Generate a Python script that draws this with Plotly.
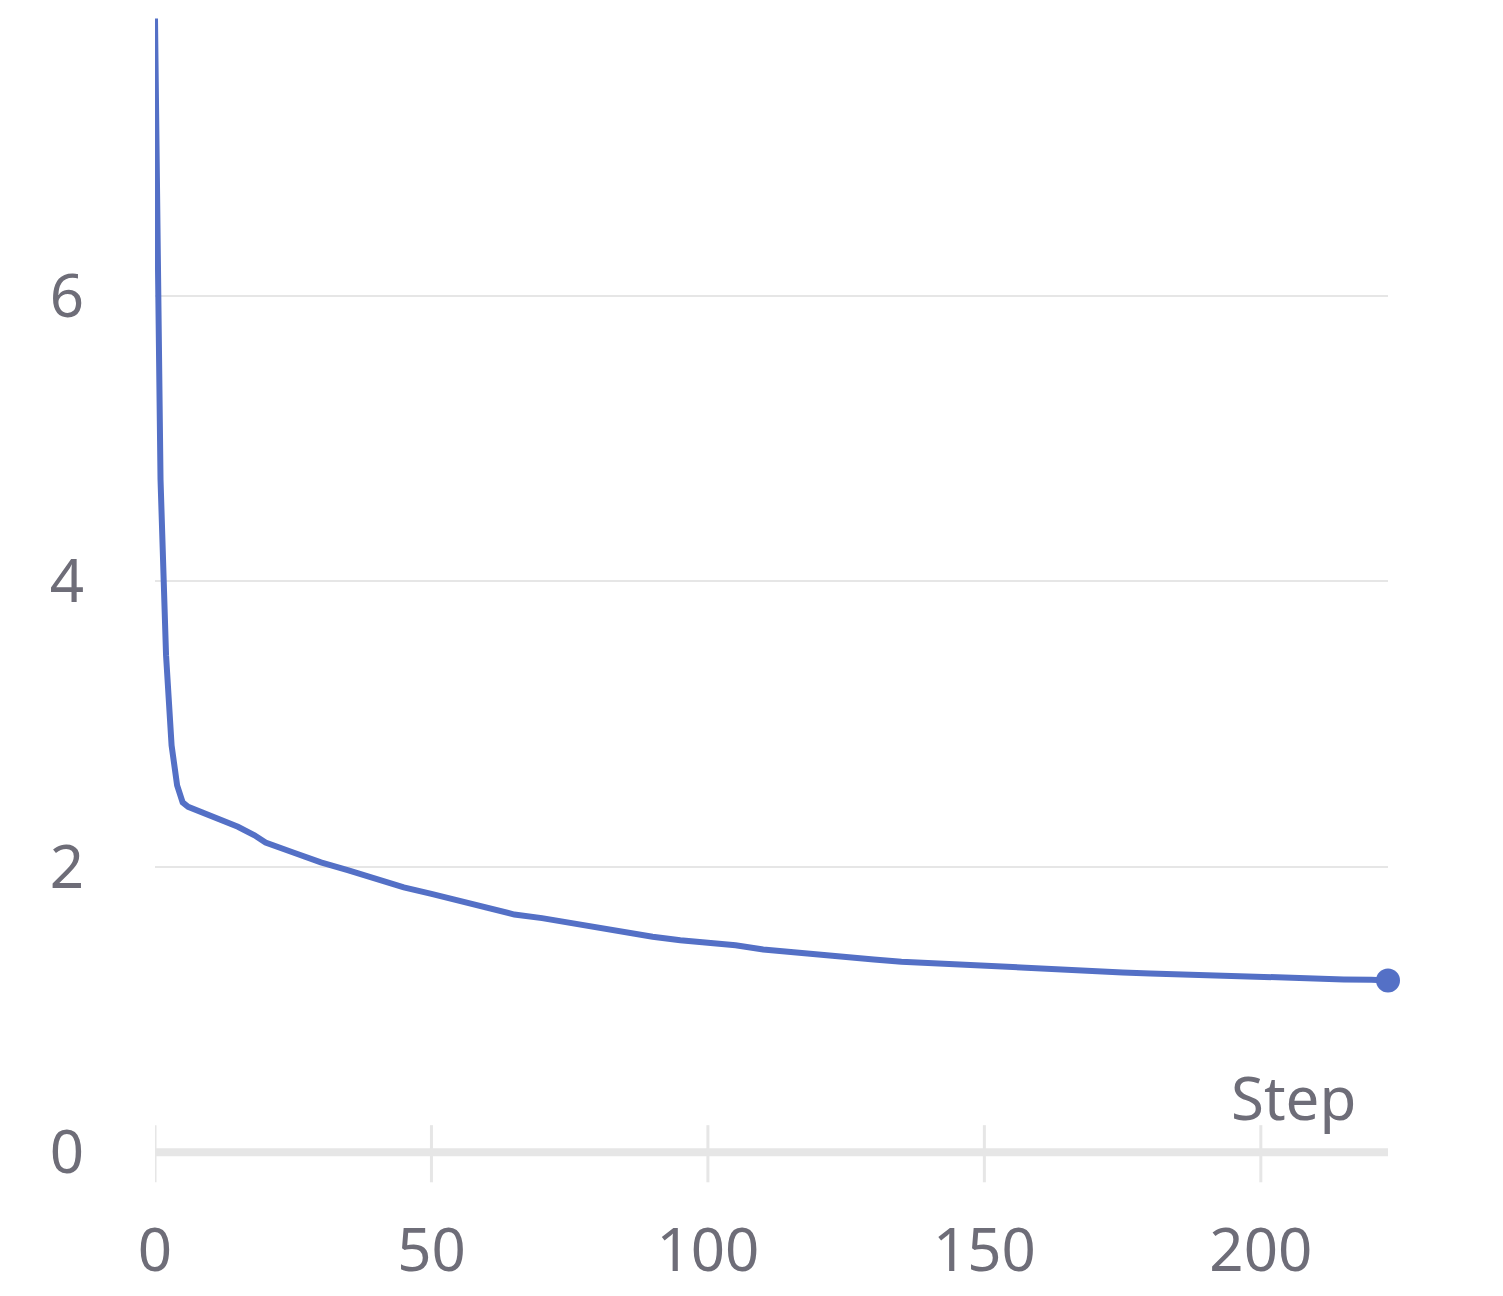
import plotly.graph_objects as go

# loss per training step
steps = [0, 1, 2, 3, 4, 5, 6, 8, 10, 12, 15, 18, 20, 25, 30, 35, 40, 45, 50,
         55, 60, 65, 70, 75, 80, 85, 90, 95, 100, 105, 110, 115, 120, 125, 130,
         135, 140, 145, 150, 155, 160, 165, 170, 175, 180, 185, 190, 195, 200,
         205, 210, 215, 220, 223]
loss = [7.94, 4.71, 3.48, 2.85, 2.57, 2.45, 2.42, 2.39, 2.36, 2.33, 2.28, 2.22,
        2.17, 2.10, 2.03, 1.975, 1.91, 1.855, 1.81, 1.76, 1.71, 1.665, 1.64,
        1.605, 1.57, 1.54, 1.51, 1.485, 1.47, 1.45, 1.42, 1.40, 1.38, 1.36,
        1.35, 1.335, 1.325, 1.313, 1.30, 1.295, 1.29, 1.278, 1.268, 1.26,
        1.253, 1.246, 1.24, 1.236, 1.229, 1.222, 1.215, 1.211, 1.208, 1.204]

x_ticks = [0, 50, 100, 150, 200]
y_ticks = [0, 2, 4, 6]
x_title = "Step"

BLUE = "#5470c6"
TEXT = "#6e6d78"
GRID = "#e6e6e6"
FONT = "Noto Sans"

fig = go.Figure()
fig.add_trace(go.Scatter(x=steps, y=loss, mode="lines",
                         line=dict(color=BLUE, width=6), hoverinfo="skip"))
# marker on the last point only
fig.add_trace(go.Scatter(x=steps[-1:], y=loss[-1:], mode="markers", cliponaxis=False,
                         marker=dict(color=BLUE, size=24), hoverinfo="skip"))

# thick baseline with ticks crossing it
fig.add_shape(type="line", xref="x", yref="y", x0=steps[0], x1=steps[-1],
              y0=0, y1=0, line=dict(color=GRID, width=8), layer="below")
for t in x_ticks:
    fig.add_shape(type="line", xref="x", yref="y", x0=t, x1=t, y0=-0.21,
                  y1=0.19, line=dict(color=GRID, width=3), layer="below")

fig.add_annotation(x=steps[-1], y=0, xref="x", yref="y", text=x_title,
                   showarrow=False, xanchor="right", yanchor="bottom",
                   xshift=-30, yshift=12, font=dict(family=FONT, size=60, color=TEXT))

# page body adds an 8px margin, so the figure is sized to fit inside it
fig.update_layout(
    width=1487, height=1280,
    margin=dict(l=147, r=107, t=2, b=100),
    paper_bgcolor="white", plot_bgcolor="white",
    showlegend=False,
    font=dict(family=FONT, size=60, color=TEXT),
    xaxis=dict(range=[0, 223], tickvals=x_ticks, showgrid=False, zeroline=False,
               showline=False, ticks="", ticklabelstandoff=22, automargin=False),
    yaxis=dict(range=[-0.25, 8], tickvals=y_ticks, showgrid=True, gridcolor=GRID,
               gridwidth=2, zeroline=False, showline=False, ticks="",
               ticklabelstandoff=70, automargin=False),
)

fig.write_html("out.html")
